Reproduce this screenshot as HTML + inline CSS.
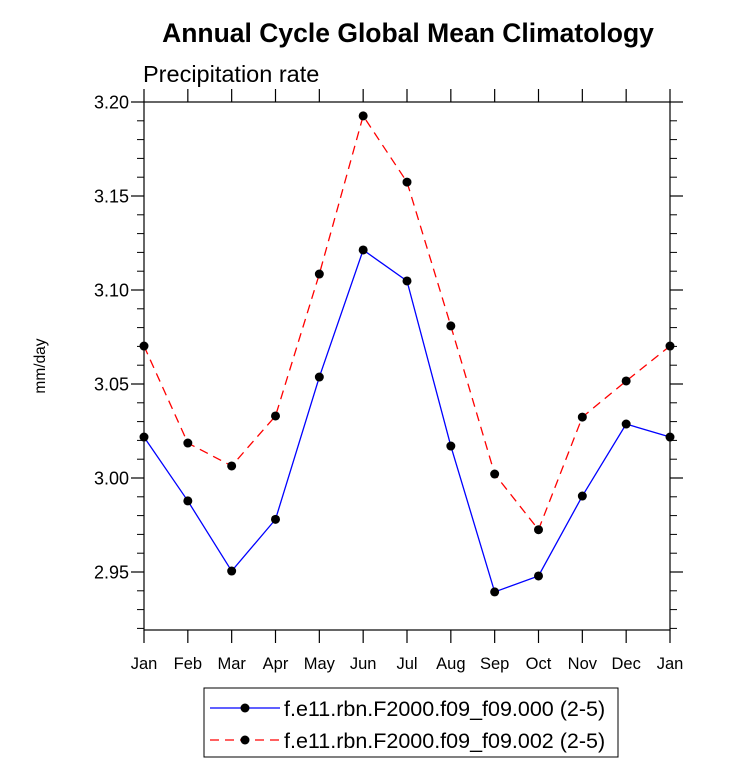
<!DOCTYPE html>
<html><head><meta charset="utf-8"><style>
html,body{margin:0;padding:0;background:#fff;}
svg{display:block;font-family:"Liberation Sans",Arial,sans-serif;}
</style></head><body>
<svg id="chart" width="733" height="782">
<text x="408" y="42" text-anchor="middle" font-size="26.5" font-weight="bold">Annual Cycle Global Mean Climatology</text>
<text x="143" y="82" font-size="23.5">Precipitation rate</text>
<text transform="translate(45,366) rotate(-90)" text-anchor="middle" font-size="15.5">mm/day</text>
<g id="axes"></g>
<g id="series"></g>
<rect x="204" y="688" width="414" height="69" fill="none" stroke="#000" stroke-width="1"/>
<g>
<line x1="210" y1="708" x2="280" y2="708" stroke="#0000ff" stroke-width="1.3"/>
<circle cx="245" cy="708" r="4.5" fill="#000"/>
<text x="284" y="716" font-size="21.5">f.e11.rbn.F2000.f09_f09.000 (2-5)</text>
</g>
<g>
<line x1="210" y1="740" x2="280" y2="740" stroke="#ff0000" stroke-width="1.3" stroke-dasharray="9,6"/>
<circle cx="245" cy="740" r="4.5" fill="#000"/>
<text x="284" y="748" font-size="21.5">f.e11.rbn.F2000.f09_f09.002 (2-5)</text>
</g>
</svg>
<script>
const months = ["Jan","Feb","Mar","Apr","May","Jun","Jul","Aug","Sep","Oct","Nov","Dec","Jan"];
const series000 = [3.0218,2.9878,2.9505,2.978,3.0537,3.1213,3.1048,3.017,2.9394,2.9479,2.9904,3.0287,3.0218];
const series002 = [3.0702,3.0186,3.0064,3.033,3.1085,3.1926,3.1574,3.0809,3.0021,2.9725,3.0324,3.0516,3.0702];
const yTicks = [2.95,3.00,3.05,3.10,3.15,3.20];
const yTickLabels = ["2.95","3.00","3.05","3.10","3.15","3.20"];
const NS="http://www.w3.org/2000/svg";
const L=144,R=670,T=102,B=630;
const yMax=3.20, yMin=3.20-(B-T)/94*0.05;
const xs=i=>L+(R-L)*i/(months.length-1);
const ys=v=>T+(yMax-v)/(yMax-yMin)*(B-T);
const axes=document.getElementById('axes'), ser=document.getElementById('series');
function mk(tag,attrs,parent){const e=document.createElementNS(NS,tag);for(const k in attrs)e.setAttribute(k,attrs[k]);parent.appendChild(e);return e;}
const frame=mk('rect',{x:L,y:T,width:R-L,height:B-T,fill:'none',stroke:'#000','stroke-width':1.2},axes);


for(let v=yMin; v<=yMax+1e-9; v+=0.01){
  const vv=Math.round(v*100)/100; if(vv<yMin-1e-9) continue;
  const y=ys(vv);
  mk('line',{x1:L-7,y1:y,x2:L,y2:y,stroke:'#000','stroke-width':1},axes);
  mk('line',{x1:R,y1:y,x2:R+7,y2:y,stroke:'#000','stroke-width':1},axes);
}
yTicks.forEach((v,i)=>{
  const y=ys(v);
  mk('line',{x1:L-13,y1:y,x2:L,y2:y,stroke:'#000','stroke-width':1.2},axes);
  mk('line',{x1:R,y1:y,x2:R+13,y2:y,stroke:'#000','stroke-width':1.2},axes);
  const t=mk('text',{x:L-15,y:y+6.5,'text-anchor':'end','font-size':18},axes);
  t.textContent=yTickLabels[i];
  
  
});
months.forEach((m,i)=>{
  const x=xs(i);
  mk('line',{x1:x,y1:B,x2:x,y2:B+13,stroke:'#000','stroke-width':1.2},axes);
  mk('line',{x1:x,y1:T-13,x2:x,y2:T,stroke:'#000','stroke-width':1.2},axes);
  const t=mk('text',{x:x,y:B+39,'text-anchor':'middle','font-size':16.5},axes);
  t.textContent=m;
  
  
});
function draw(vals,color,dash,name){
  const g=mk('g',{},ser);
  
  
  const pts=vals.map((v,i)=>xs(i)+','+ys(v)).join(' ');
  const a={points:pts,fill:'none',stroke:color,'stroke-width':1.3};
  if(dash)a['stroke-dasharray']=dash;
  mk('polyline',a,g);
  vals.forEach((v,i)=>{
    const c=mk('circle',{cx:xs(i),cy:ys(v),r:4.5,fill:'#000'},g);
    
    
  });
}
draw(series000,'#0000ff',null,'series-000');
draw(series002,'#ff0000','9,6','series-002');
</script>
</body></html>
